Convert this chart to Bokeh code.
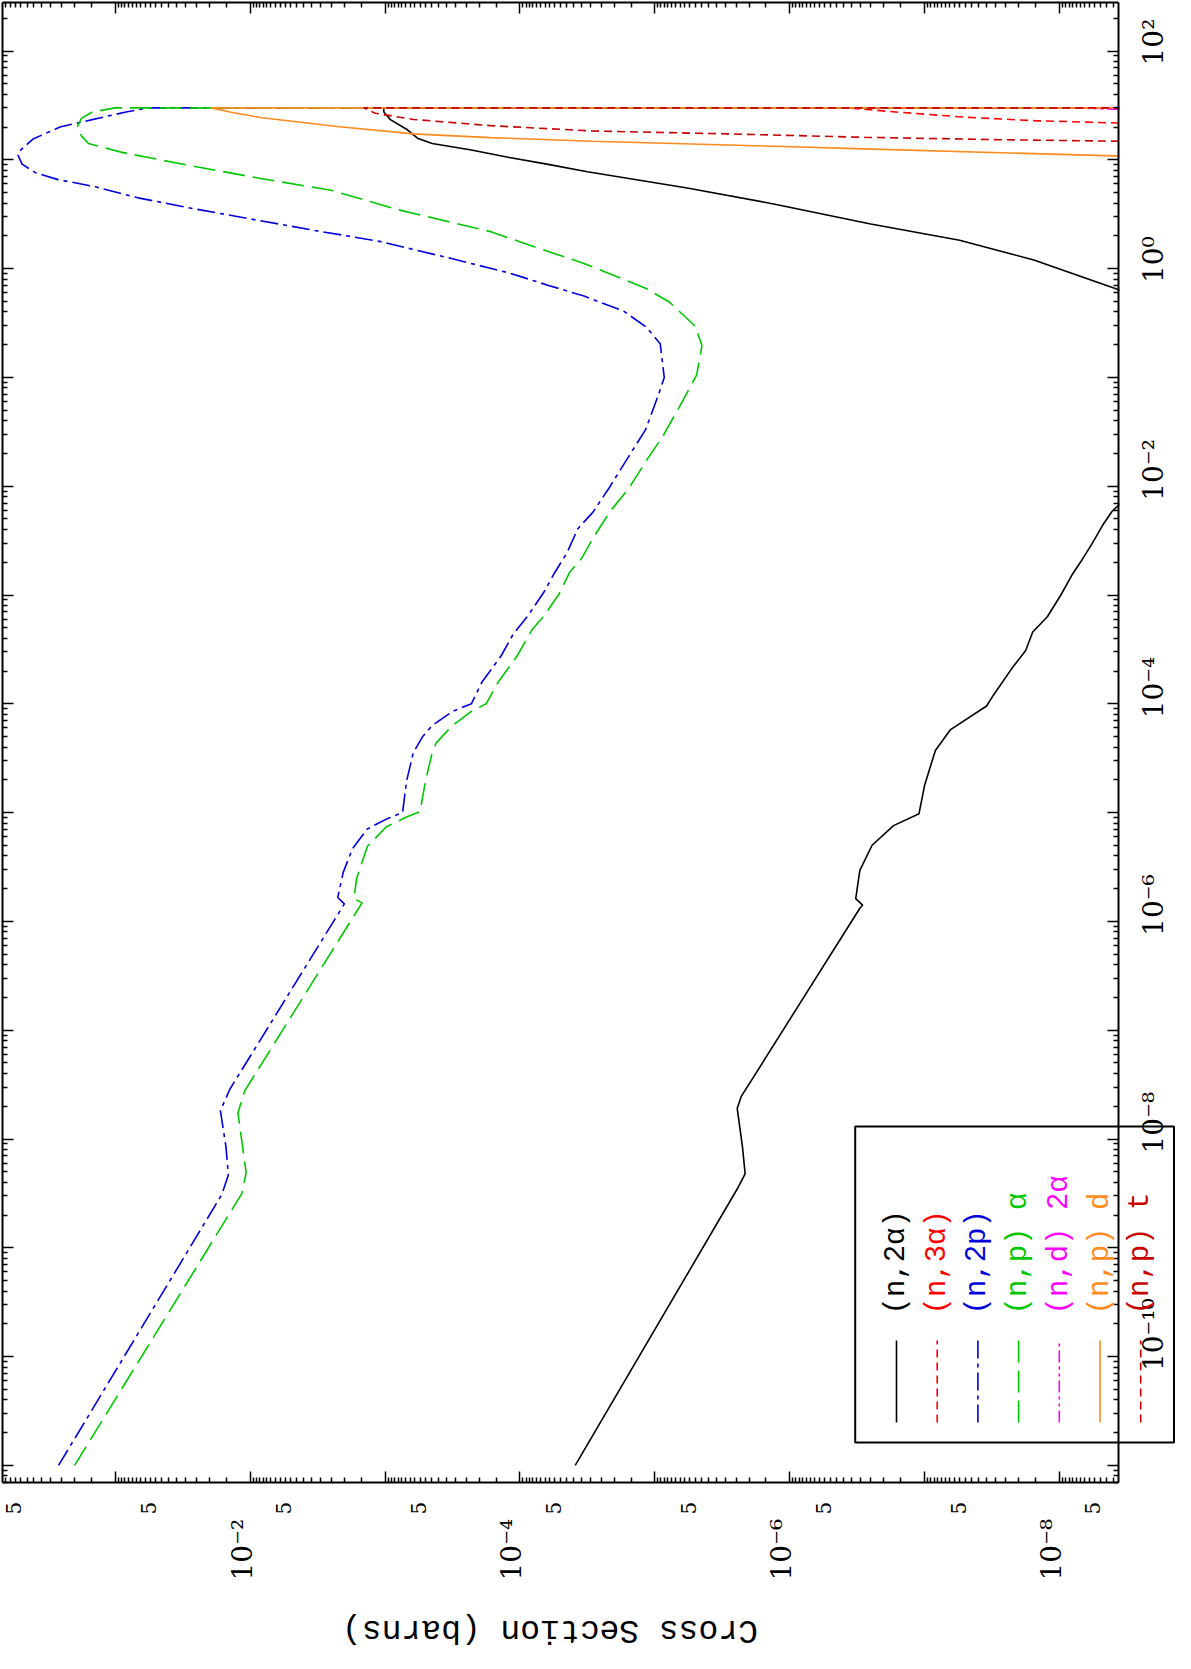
import math
from bokeh.plotting import figure
from bokeh.models import Range1d, LogAxis, FixedTicker, Label, BoxAnnotation, Arrow
from bokeh.embed import file_html
from bokeh.resources import INLINE

# ---------------- data (energy in MeV, cross section in barns) ----------------
N2A_E = [1e-11, 3.47e-9, 4.79e-9, 8.51e-9, 1.91e-8, 2.45e-8, 1.32e-6, 1.41e-6, 1.62e-6, 2.95e-6,
         5.01e-6, 7.59e-6, 9.77e-6, 1.78e-5, 3.72e-5, 5.75e-5, 9.55e-5, 1.20e-4, 2.14e-4, 3.09e-4,
         4.57e-4, 6.31e-4, 1.00e-3, 1.51e-3, 2.04e-3, 2.95e-3, 4.37e-3, 5.89e-3, 7.08e-3, 3.16e-2,
         0.251, 0.631, 1.20, 1.82, 2.57, 3.89, 5.50, 7.76, 9.12, 10.5, 12.3, 14.1, 15.8, 19.1,
         23.4, 27.5, 30.0, 30.0]
N2A_XS = [3.89e-5, 2.45e-6, 2.14e-6, 2.24e-6, 2.45e-6, 2.29e-6, 3.02e-7, 2.88e-7, 3.24e-7, 3.02e-7,
          2.45e-7, 1.70e-7, 1.10e-7, 1.00e-7, 8.32e-8, 6.46e-8, 3.47e-8, 3.09e-8, 2.24e-8, 1.78e-8,
          1.58e-8, 1.23e-8, 9.77e-9, 8.13e-9, 6.92e-9, 5.75e-9, 4.79e-9, 4.07e-9, 3.47e-9, 1.58e-9,
          1.58e-9, 3.55e-9, 1.55e-8, 5.50e-8, 2.51e-7, 1.26e-6, 5.75e-6, 3.16e-5, 6.31e-5, 1.20e-4,
          2.29e-4, 4.47e-4, 5.75e-4, 6.92e-4, 9.12e-4, 1.02e-3, 1.02e-3, 1e-12]

N3A_E = [20.0, 21.7, 22.9, 24.6, 27.4, 30.0, 30.0]
N3A_XS = [3.16e-10, 3.31e-9, 1.54e-8, 4.92e-8, 1.57e-7, 3.74e-7, 1e-12]

N2P_E = [1e-11, 3.09e-9, 4.68e-9, 8.51e-9, 1.82e-8, 2.88e-8, 1.45e-6, 1.66e-6, 2.82e-6, 4.68e-6,
         7.08e-6, 8.71e-6, 1.00e-5, 1.95e-5, 3.55e-5, 5.01e-5, 6.31e-5, 8.51e-5, 1.00e-4, 1.585e-4,
         2.75e-4, 4.37e-4, 6.46e-4, 1.07e-3, 1.62e-3, 2.45e-3, 4.07e-3, 5.75e-3, 1.00e-2, 1.82e-2,
         3.31e-2, 7.08e-2, 0.100, 0.204, 0.288, 0.407, 0.562, 0.708, 0.912, 1.23, 1.78, 2.24,
         2.82, 3.63, 4.47, 5.62, 6.61, 7.59, 9.12, 11.0, 12.0, 15.5, 20.0, 23.4, 27.5, 30.0, 30.0]
N2P_XS = [0.263, 1.62e-2, 1.45e-2, 1.51e-2, 1.66e-2, 1.41e-2, 2.00e-3, 2.24e-3, 2.04e-3, 1.74e-3,
          1.35e-3, 9.77e-4, 7.41e-4, 6.92e-4, 6.17e-4, 5.25e-4, 4.47e-4, 3.16e-4, 2.29e-4, 1.91e-4,
          1.38e-4, 1.12e-4, 8.71e-5, 6.61e-5, 5.50e-5, 4.47e-5, 3.72e-5, 2.88e-5, 2.14e-5, 1.585e-5,
          1.17e-5, 9.33e-6, 8.51e-6, 9.12e-6, 1.15e-5, 1.70e-5, 3.39e-5, 6.31e-5, 1.20e-4, 3.16e-4,
          1.10e-3, 3.31e-3, 9.33e-3, 2.88e-2, 6.76e-2, 0.138, 0.269, 0.389, 0.490, 0.525, 0.513,
          0.407, 0.257, 0.148, 8.32e-2, 5.75e-2, 1e-12]

NPA_E = [1e-11, 3.16e-9, 4.90e-9, 1.74e-8, 2.75e-8, 1.48e-6, 1.62e-6, 2.51e-6, 4.90e-6, 7.41e-6,
         9.12e-6, 1.02e-5, 1.95e-5, 3.55e-5, 4.37e-5, 6.31e-5, 8.51e-5, 1.00e-4, 1.58e-4, 2.75e-4,
         4.79e-4, 6.46e-4, 1.02e-3, 1.62e-3, 2.19e-3, 3.31e-3, 5.89e-3, 9.33e-3, 1.82e-2, 2.88e-2,
         6.17e-2, 0.105, 0.195, 0.295, 0.490, 0.661, 1.12, 1.45, 2.19, 3.47, 5.25, 6.76, 8.91,
         11.7, 14.1, 16.6, 20.0, 24.0, 27.5, 30.0, 30.0]
NPA_XS = [0.200, 1.15e-2, 1.07e-2, 1.23e-2, 1.10e-2, 1.48e-3, 1.70e-3, 1.62e-3, 1.35e-3, 9.77e-4,
          6.92e-4, 5.50e-4, 5.01e-4, 4.47e-4, 4.17e-4, 3.16e-4, 2.29e-4, 1.78e-4, 1.45e-4, 1.05e-4,
          8.13e-5, 6.61e-5, 5.13e-5, 4.27e-5, 3.47e-5, 2.88e-5, 2.14e-5, 1.58e-5, 1.12e-5, 8.71e-6,
          6.17e-6, 4.90e-6, 4.47e-6, 5.01e-6, 7.76e-6, 1.17e-5, 3.39e-5, 6.31e-5, 1.66e-4, 7.94e-4,
          2.51e-3, 8.51e-3, 2.88e-2, 8.91e-2, 0.158, 0.178, 0.191, 0.178, 0.148, 0.100, 1e-12]

ND2A_E = [25.1, 29.0, 29.8, 30.0, 30.0]
ND2A_XS = [1.0e-10, 3.55e-9, 6.46e-9, 8.91e-9, 1e-12]

NPD_E = [10.0, 10.8, 12.6, 13.3, 14.8, 16.0, 17.3, 20.2, 24.5, 27.5, 30.0, 30.0]
NPD_XS = [3.16e-10, 3.39e-9, 2.80e-7, 1.32e-6, 2.90e-5, 1.66e-4, 6.15e-4, 2.27e-3, 8.47e-3,
          1.41e-2, 1.95e-2, 1e-12]

NPT_E = [14.1, 14.8, 15.3, 16.1, 17.3, 18.4, 20.6, 23.5, 26.8, 30.0, 30.0]
NPT_XS = [3.16e-10, 3.39e-9, 2.75e-8, 2.80e-7, 2.84e-6, 2.90e-5, 1.66e-4, 6.15e-4, 1.18e-3,
          1.44e-3, 1e-12]

SERIES_NAMES = ["(n,2\u03b1)", "(n,3\u03b1)", "(n,2p)", "(n,p) \u03b1", "(n,d) 2\u03b1", "(n,p) d", "(n,p) t"]
XS_LABEL_DECADES = [-2, -4, -6, -8]
XS_FIVE_DECADES = [-1, -2, -3, -4, -5, -6, -7, -8, -9]
E_LABEL_DECADES = [2, 0, -2, -4, -6, -8, -10]
XS_TITLE = "Cross Section (barns)"

# ---------------- layout (page pixels) ----------------
PAGE = 8
CANVAS_W, CANVAS_H = 1175, 1653          # the frame covers the whole canvas
FL, FT, FR, FB = 10, 10, 1126, 1490      # visible plot box (axes drawn at these edges)
X_REF_PX, X_REF_LOG, X_PX_DEC = 122.7, -1.0, 134.9
Y_REF_PX, Y_REF_LOG, Y_PX_DEC = 58.5, 2.0, 108.8


def xs_at(px):
    return 10 ** (X_REF_LOG - (px - X_REF_PX) / X_PX_DEC)


def e_at(py):
    return 10 ** (Y_REF_LOG - (py - Y_REF_PX) / Y_PX_DEC)


def px_of(xs):
    return X_REF_PX + (X_REF_LOG - math.log10(xs)) * X_PX_DEC


def py_of(e):
    return Y_REF_PX + (Y_REF_LOG - math.log10(e)) * Y_PX_DEC


SUP = str.maketrans("-0123456789", "\u207b\u2070\u00b9\u00b2\u00b3\u2074\u2075\u2076\u2077\u2078\u2079")


def pow_label(k):
    return "10" + str(k).translate(SUP)


TICK_FONT = "DejaVu Serif"
TEXT_FONT = "Liberation Mono"

p = figure(frame_width=CANVAS_W, frame_height=CANVAS_H,
           x_axis_type="log", y_axis_type="log",
           x_range=Range1d(xs_at(PAGE), xs_at(PAGE + CANVAS_W)),
           y_range=Range1d(e_at(PAGE + CANVAS_H), e_at(PAGE)),
           x_axis_location="below", y_axis_location="right",
           output_backend="svg", toolbar_location=None,
           min_border=0, min_border_left=0, min_border_right=0,
           min_border_top=0, min_border_bottom=0)
p.grid.visible = False
p.outline_line_color = None
p.background_fill_color = "white"
p.border_fill_color = "white"

X_LO, X_HI = xs_at(FR), xs_at(FL)
Y_LO, Y_HI = e_at(FB), e_at(FT)

# tick positions (restricted to the visible box)
xs_major = [t for t in (10.0 ** k for k in range(-10, 1)) if X_LO <= t <= X_HI]
xs_minor = [t for t in ((1.5 + 0.5 * i) * 10.0 ** k for k in range(-10, 1) for i in range(17))
            if X_LO <= t <= X_HI]
e_major = [t for t in (10.0 ** k for k in range(-12, 3)) if Y_LO <= t <= Y_HI]
e_minor = [t for t in (m * 10.0 ** k for k in range(-12, 3) for m in range(2, 10))
           if Y_LO <= t <= Y_HI]


def tick_axis(ax, major, minor, loc, bounds):
    ax.fixed_location = loc
    ax.bounds = bounds
    ax.ticker = FixedTicker(ticks=major, minor_ticks=minor)
    ax.major_tick_in = 11
    ax.major_tick_out = 0
    ax.minor_tick_in = 5
    ax.minor_tick_out = 0
    ax.major_tick_line_width = 1.5
    ax.minor_tick_line_width = 1.5
    ax.axis_line_width = 2
    ax.major_label_text_font_size = "0px"
    ax.major_label_standoff = 0
    ax.major_label_overrides = {t: "" for t in major}


# frame edges with inward ticks (all four sides)
tick_axis(p.xaxis[0], xs_major, xs_minor, Y_LO, (X_LO, X_HI))
tick_axis(p.yaxis[0], e_major, e_minor, X_LO, (Y_LO, Y_HI))
top_ax = LogAxis()
tick_axis(top_ax, xs_major, xs_minor, Y_HI, (X_LO, X_HI))
p.add_layout(top_ax, "above")
left_ax = LogAxis()
tick_axis(left_ax, e_major, e_minor, X_HI, (Y_LO, Y_HI))
p.add_layout(left_ax, "left")

# ---------------- curves ----------------
styles = [
    (N2A_XS, N2A_E, "#000000", "solid"),
    (N3A_XS, N3A_E, "#ff0000", "8 5"),
    (N2P_XS, N2P_E, "#0000dd", "18 5 4 5"),
    (NPA_XS, NPA_E, "#00c800", "22 8"),
    (ND2A_XS, ND2A_E, "#ff00ff", "12 4 3 4 3 4"),
    (NPD_XS, NPD_E, "#ff8a1e", "solid"),
    (NPT_XS, NPT_E, "#c80000", "8 5"),
]
for xs, es, col, dash in styles:
    p.line(x=xs, y=es, line_color=col, line_dash=dash, line_width=1.6)

# white margin to the right of the plot box (hides the curves beyond its right edge)
p.add_layout(BoxAnnotation(left=xs_at(FR + 1), right=xs_at(PAGE + CANVAS_W + 10),
                           top=e_at(0), bottom=e_at(PAGE + CANVAS_H + 10),
                           fill_color="white", fill_alpha=1, line_color=None, level="glyph"))

# ---------------- tick labels (rotated like the reference) ----------------
RIGHT_LABEL_MID_PX = 1161       # centre line of the energy labels
RIGHT_LABEL_DROP_PX = 14.5      # label starts this far below its tick
for k in E_LABEL_DECADES:
    p.add_layout(Label(x=xs_at(RIGHT_LABEL_MID_PX), y=e_at(py_of(10.0 ** k) + RIGHT_LABEL_DROP_PX),
                       text=pow_label(k), angle=math.pi / 2, text_align="left",
                       text_baseline="middle", text_font=TICK_FONT,
                       text_font_size="28px", text_color="black"))

FIVE_START_PX, FIVE_MID_DX = 1522, -7.2
for k in XS_FIVE_DECADES:
    t = 5 * 10.0 ** k
    if X_LO <= t <= X_HI:
        p.add_layout(Label(x=xs_at(px_of(t) + FIVE_MID_DX), y=e_at(FIVE_START_PX), text="5",
                           angle=math.pi / 2, text_align="left", text_baseline="middle",
                           text_font=TICK_FONT, text_font_size="20px", text_color="black"))

DEC_START_PX, DEC_MID_DX = 1588, -8.0
for k in XS_LABEL_DECADES:
    p.add_layout(Label(x=xs_at(px_of(10.0 ** k) + DEC_MID_DX), y=e_at(DEC_START_PX), text=pow_label(k),
                       angle=math.pi / 2, text_align="left", text_baseline="middle",
                       text_font=TICK_FONT, text_font_size="28px", text_color="black"))

# ---------------- legend (drawn rotated, like the reference) ----------------
LEG_L, LEG_R, LEG_T, LEG_B = 862.7, 1181.5, 1134, 1450
ENTRY_X0, ENTRY_DX = 904, 40.7
SAMPLE_Y0, SAMPLE_Y1, TEXT_Y = 1430, 1348, 1322

p.add_layout(BoxAnnotation(left=xs_at(LEG_L), right=xs_at(LEG_R), top=e_at(LEG_T), bottom=e_at(LEG_B),
                           fill_color=None, fill_alpha=0, line_color="black", line_alpha=1,
                           line_width=2, level="overlay"))
for i, (name, (xs, es, col, dash)) in enumerate(zip(SERIES_NAMES, styles)):
    ex = ENTRY_X0 + i * ENTRY_DX
    p.add_layout(Arrow(end=None, x_start=xs_at(ex), y_start=e_at(SAMPLE_Y0),
                       x_end=xs_at(ex), y_end=e_at(SAMPLE_Y1),
                       line_color=col, line_dash=dash, line_width=1.6))
    p.add_layout(Label(x=xs_at(ex), y=e_at(TEXT_Y), text=name, angle=math.pi / 2,
                       text_align="left", text_baseline="middle",
                       text_font=TEXT_FONT, text_font_size="29px", text_color=col))

# axis title (upside down, as in the reference)
p.add_layout(Label(x=xs_at(557.5), y=e_at(1637), text=XS_TITLE, angle=math.pi,
                   text_align="center", text_baseline="middle",
                   text_font=TEXT_FONT, text_font_size="33px", text_color="black"))

open("out.html", "w").write(file_html(p, INLINE))
